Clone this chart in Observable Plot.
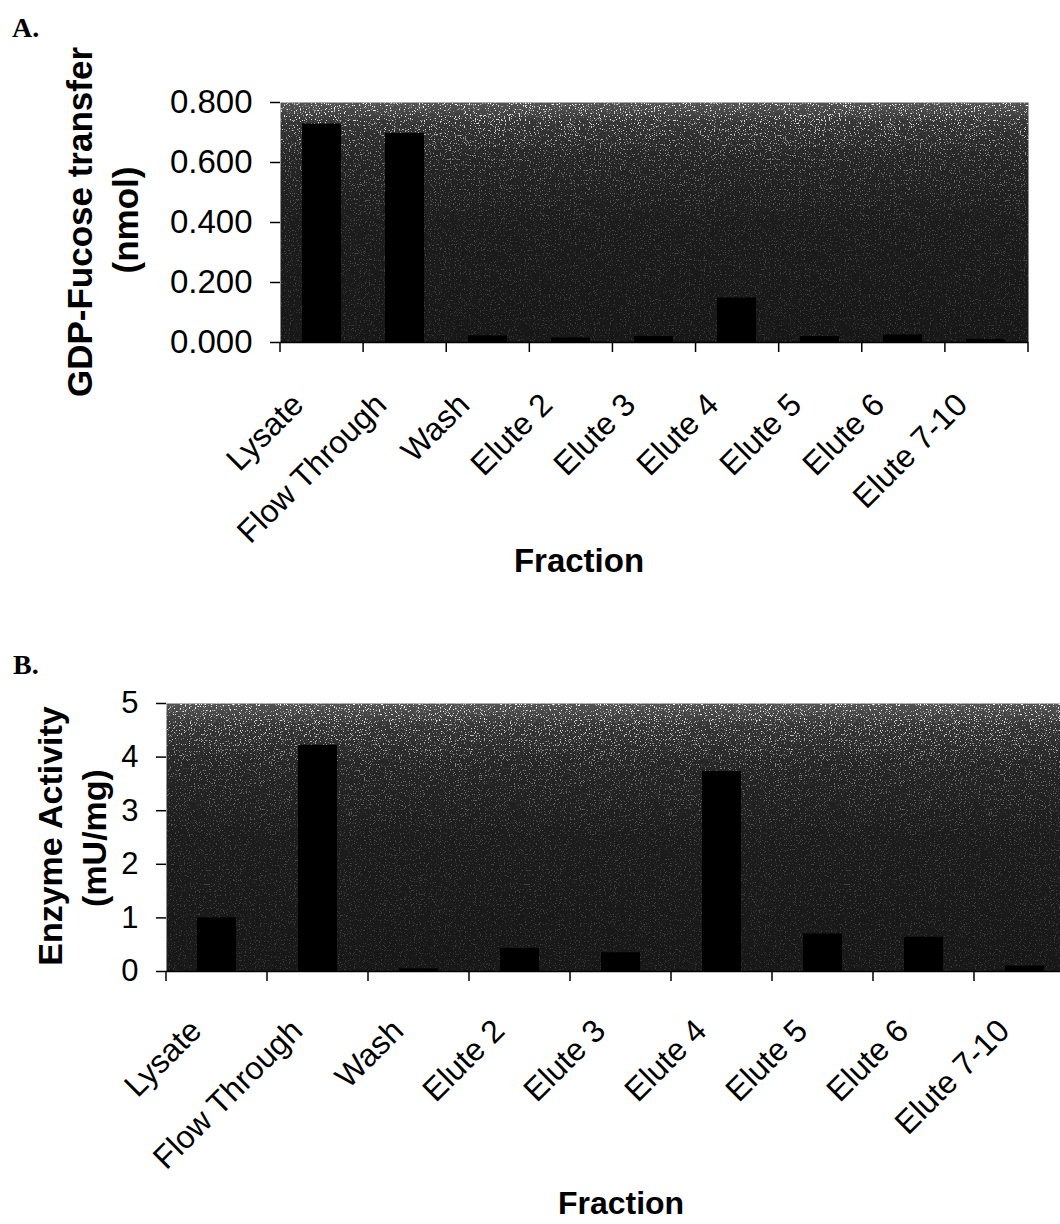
<!DOCTYPE html>
<html><head><meta charset="utf-8">
<script src="https://cdn.jsdelivr.net/npm/d3@7"></script>
<script src="https://cdn.jsdelivr.net/npm/@observablehq/plot@0.6"></script>
<style>
html,body{margin:0;padding:0;background:#fff;width:1060px;height:1224px;overflow:hidden;}
#wrap{position:relative;width:1060px;height:1224px;overflow:hidden;background:#fff;}
.panel{position:absolute;left:0;}
.panel svg{max-width:none !important;}
</style></head><body>
<div id="wrap"><div id="pa" class="panel" style="top:0px;width:1060px"></div><div id="pb" class="panel" style="top:600px;width:1080px"></div></div>
<script>
// ---- data ----
const fractions = ["Lysate","Flow Through","Wash","Elute 2","Elute 3","Elute 4","Elute 5","Elute 6","Elute 7-10"];
const fucoseTransfer = [0.728, 0.697, 0.022, 0.015, 0.020, 0.148, 0.020, 0.025, 0.010];
const enzymeActivity = [1.00, 4.22, 0.05, 0.43, 0.35, 3.73, 0.70, 0.64, 0.10];
const yTicksA = [0, 0.2, 0.4, 0.6, 0.8];
const yTicksB = [0, 1, 2, 3, 4, 5];
const panelLetters = ["A.", "B."];
const yTitlesA = ["GDP-Fucose transfer", "(nmol)"];
const yTitlesB = ["Enzyme Activity", "(mU/mg)"];
const xTitle = "Fraction";

const SANS = "'Liberation Sans', Arial, Helvetica, sans-serif";
const SERIF = "'Liberation Serif', 'Times New Roman', serif";

function panel(o) {
  const data = fractions.map((f, i) => ({fraction: f, value: o.values[i]}));
  const svg = Plot.plot({
    width: o.width, height: o.height,
    marginTop: o.mt, marginBottom: o.mb, marginLeft: o.ml, marginRight: o.mr,
    style: {fontFamily: SANS, fontSize: o.tickFont + "px", color: "#000", background: "transparent", overflow: "visible", maxWidth: "none"},
    x: {type: "band", domain: fractions, paddingInner: o.pad, paddingOuter: o.pad / 2, axis: null},
    y: {domain: o.ydomain, axis: null},
    marks: [
      Plot.frame({fill: `url(#bg${o.id})`, stroke: null}),
      Plot.barY(data, {x: "fraction", y: "value", fill: "#000"}),
      Plot.ruleY([0], {stroke: "#000", strokeWidth: 1.5}),
      Plot.axisY({ticks: o.yticks, tickSize: 10, tickPadding: 18, tickFormat: o.fmt, fontSize: o.tickFont, label: null, strokeWidth: 1.5}),
      Plot.text(fractions, {x: d => d, frameAnchor: "bottom", rotate: -45, textAnchor: "end", lineAnchor: "middle",
        dx: o.ldx, dy: o.ldy, fontSize: o.xFont})
    ]
  });
  const s = d3.select(svg);
  const defs = s.insert("defs", ":first-child");
  const g = defs.append("linearGradient").attr("id", "bg" + o.id).attr("x1", 0).attr("y1", 0).attr("x2", 0).attr("y2", 1);
  [[0, "#555555"], [0.08, "#363636"], [0.22, "#262626"], [0.5, "#1c1c1c"], [1, "#171717"]]
    .forEach(([off, c]) => g.append("stop").attr("offset", off).attr("stop-color", c));
  const f = defs.append("filter").attr("id", "spk" + o.id).attr("x", 0).attr("y", 0).attr("width", 1).attr("height", 1);
  f.append("feTurbulence").attr("type", "fractalNoise").attr("baseFrequency", 0.8).attr("numOctaves", 2).attr("seed", o.id === "A" ? 4 : 9);
  f.append("feColorMatrix").attr("type", "matrix").attr("values", "0 0 0 0 1  0 0 0 0 1  0 0 0 0 1  9 0 0 0 -5.4");
  const mg = defs.append("linearGradient").attr("id", "mg" + o.id).attr("x1", 0).attr("y1", 0).attr("x2", 0).attr("y2", 1);
  [[0, "#ffffff"], [0.1, "#cccccc"], [0.25, "#666666"], [0.5, "#333333"], [1, "#262626"]]
    .forEach(([off, c]) => mg.append("stop").attr("offset", off).attr("stop-color", c));
  const mk = defs.append("mask").attr("id", "mk" + o.id).attr("maskContentUnits", "objectBoundingBox");
  mk.append("rect").attr("width", 1).attr("height", 1).attr("fill", `url(#mg${o.id})`);

  let fr = svg.querySelector('[aria-label="frame"]');
  if (fr && fr.tagName.toLowerCase() !== "rect") fr = fr.querySelector("rect");
  if (fr) {
    const sp = fr.cloneNode(false);
    sp.setAttribute("fill", "#fff");
    sp.setAttribute("filter", `url(#spk${o.id})`);
    sp.setAttribute("mask", `url(#mk${o.id})`);
    sp.removeAttribute("aria-label");
    fr.parentNode.insertBefore(sp, fr.nextSibling);
  }

  // category boundary ticks on the x axis (Excel style), from the scale's range
  const xs = svg.scale("x");
  const [r0, r1] = xs.range;
  const step = (r1 - r0) / fractions.length;
  const yb = o.height - o.mb;
  const tg = s.append("g").attr("stroke", "#000").attr("stroke-width", 1.5);
  for (let i = 0; i <= fractions.length; i++) {
    const x = r0 + i * step;
    tg.append("line").attr("x1", x).attr("x2", x).attr("y1", yb).attr("y2", yb + 10);
  }

  // panel letter
  s.append("text").attr("x", o.letter.x).attr("y", o.letter.y).attr("text-anchor", "start")
    .style("font-family", SERIF).style("font-weight", "bold").style("font-size", "28px").attr("fill", "#000").text(o.letter.t);
  // y titles
  o.ytitles.forEach((t, i) => {
    s.append("text").attr("transform", `translate(${o.yt[i][0]},${o.yt[i][1]}) rotate(-90)`)
      .attr("text-anchor", "middle").style("font-family", SANS).style("font-weight", "bold")
      .style("font-size", o.ytFont + "px").attr("fill", "#000").text(t);
  });
  // x title
  s.append("text").attr("x", o.xt[0]).attr("y", o.xt[1]).attr("text-anchor", "middle")
    .style("font-family", SANS).style("font-weight", "bold").style("font-size", o.xtFont + "px").attr("fill", "#000").text(xTitle);
  return svg;
}

document.getElementById("pa").appendChild(panel({
  id: "A", values: fucoseTransfer, width: 1060, height: 600, mt: 102, mb: 258, ml: 280, mr: 32,
  pad: 0.53, ydomain: [0, 0.8], yticks: yTicksA, fmt: d3.format(".3f"), tickFont: 33, xFont: 32,
  ldx: -24, ldy: 57, letter: {x: 12, y: 37, t: panelLetters[0]},
  ytitles: yTitlesA, yt: [[92, 222], [138, 220]], ytFont: 35, xt: [579, 572], xtFont: 33
}));
document.getElementById("pb").appendChild(panel({
  id: "B", values: enzymeActivity, width: 1080, height: 624, mt: 103, mb: 253, ml: 166, mr: 5,
  pad: 0.615, ydomain: [0, 5], yticks: yTicksB, fmt: d3.format("d"), tickFont: 31, xFont: 32,
  ldx: -21, ldy: 54, letter: {x: 13, y: 74, t: panelLetters[1]},
  ytitles: yTitlesB, yt: [[62, 236], [106, 238]], ytFont: 34, xt: [621, 614], xtFont: 32
}));
</script>
</body></html>
